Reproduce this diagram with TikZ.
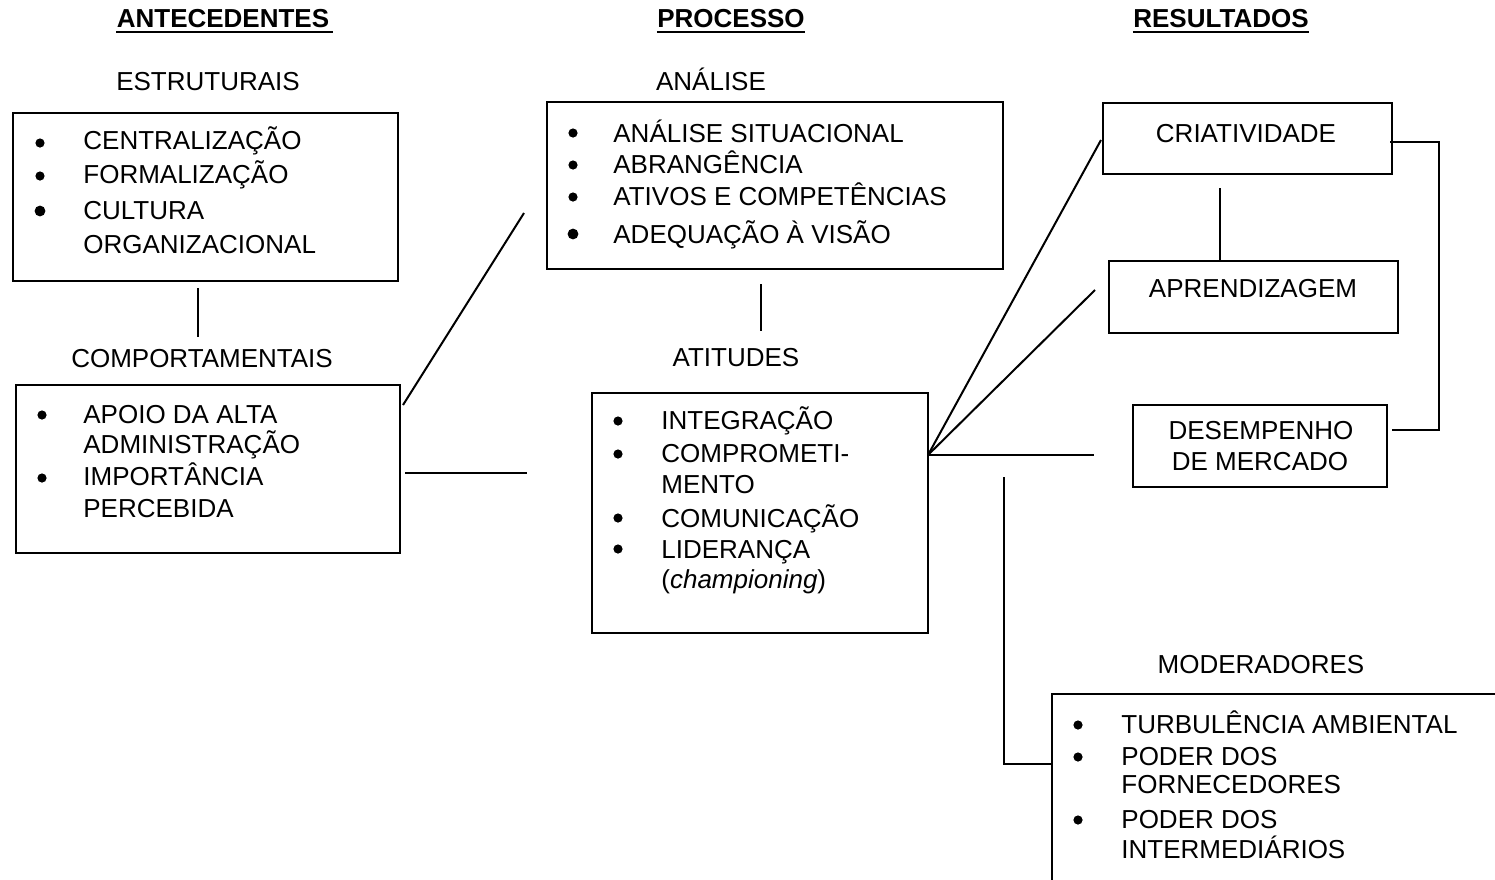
\documentclass[tikz,border=0pt]{standalone}
\usepackage{fontspec}
\setmainfont{Liberation Sans}
\usetikzlibrary{fit}
\begin{document}
\begin{tikzpicture}[x=0.5pt,y=-0.5pt,
  font=\fontsize{13}{15}\selectfont,
  box/.style={draw, line width=1.1pt, inner sep=0pt},
  txt/.style={anchor=base west, inner sep=0pt},
  lbl/.style={anchor=base, inner sep=0pt},
  hdr/.style={anchor=base, inner sep=0pt, font=\fontsize{13}{15}\selectfont\bfseries},
  dot/.style={circle, fill, inner sep=0pt, minimum size=4.6pt},
  bigdot/.style={circle, fill, inner sep=0pt, minimum size=5.4pt},
  conn/.style={line width=1pt}]
\useasboundingbox (0,0) rectangle (1495,879);
\clip (0,0) rectangle (1495,879);

% column headings
\node[hdr] (hA) at (223,27) {ANTECEDENTES};
\node[hdr] (hP) at (731,27) {PROCESSO};
\node[hdr] (hR) at (1221,27) {RESULTADOS};
\draw[line width=1pt] ([yshift=-2.6pt]hA.base west) -- ([yshift=-2.6pt,xshift=1.5pt]hA.base east);
\draw[line width=1pt] ([yshift=-2.6pt]hP.base west) -- ([yshift=-2.6pt]hP.base east);
\draw[line width=1pt] ([yshift=-2.6pt]hR.base west) -- ([yshift=-2.6pt]hR.base east);

% group labels
\node[lbl] (lEst) at (208,90) {ESTRUTURAIS};
\node[lbl] (lAna) at (711,90) {ANÁLISE};
\node[lbl] (lCom) at (202,367) {COMPORTAMENTAIS};
\node[lbl] (lAti) at (736,366) {ATITUDES};
\node[lbl] (lMod) at (1261,673) {MODERADORES};

% boxes
\node[box, fit={(13,113) (398,281)}] (estr) {};
\node[box, fit={(16,385) (400,553)}] (comp) {};
\node[box, fit={(547,102) (1003,269)}] (anal) {};
\node[box, fit={(592,393) (928,633)}] (atit) {};
\node[box, fit={(1103,103) (1392,174)}] (cria) {};
\node[box, fit={(1109,261) (1398,333)}] (apre) {};
\node[box, fit={(1133,405) (1387,487)}] (dese) {};
\node[box, fit={(1052,694) (1530,910)}] (mode) {};

% structural antecedents
\node[dot] (e1) at (40,143) {};
\node[dot] (e2) at (40,176) {};
\node[bigdot] (e3) at (40,211) {};
\node[txt] (te1) at (83,149) {CENTRALIZAÇÃO};
\node[txt] (te2) at (83,183) {FORMALIZAÇÃO};
\node[txt] (te3) at (83,219) {CULTURA};
\node[txt] (te4) at (83,253) {ORGANIZACIONAL};

% behavioural antecedents
\node[dot] (b1) at (42,415) {};
\node[dot] (b2) at (42,478) {};
\node[txt] (tb1) at (83,423) {APOIO DA ALTA};
\node[txt] (tb2) at (83,453) {ADMINISTRAÇÃO};
\node[txt] (tb3) at (83,485) {IMPORTÂNCIA};
\node[txt] (tb4) at (83,517) {PERCEBIDA};

% analysis
\node[dot] (a1) at (573,133) {};
\node[dot] (a2) at (573,165) {};
\node[dot] (a3) at (573,197) {};
\node[bigdot] (a4) at (573,234) {};
\node[txt] (ta1) at (613,142) {ANÁLISE SITUACIONAL};
\node[txt] (ta2) at (613,173) {ABRANGÊNCIA};
\node[txt] (ta3) at (613,205) {ATIVOS E COMPETÊNCIAS};
\node[txt] (ta4) at (613,243) {ADEQUAÇÃO À VISÃO};

% attitudes
\node[dot] (t1) at (618,421) {};
\node[dot] (t2) at (618,454) {};
\node[dot] (t3) at (618,518) {};
\node[dot] (t4) at (618,549) {};
\node[txt] (tt1) at (661,429) {INTEGRAÇÃO};
\node[txt] (tt2) at (661,462) {COMPROMETI-};
\node[txt] (tt3) at (661,493) {MENTO};
\node[txt] (tt4) at (661,527) {COMUNICAÇÃO};
\node[txt] (tt5) at (661,558) {LIDERANÇA};
\node[txt] (tt6) at (661,588) {(\textit{championing})};

% outcomes
\node[lbl] (tc) at (1246,142) {CRIATIVIDADE};
\node[lbl] (tp) at (1253,297) {APRENDIZAGEM};
\node[lbl] (td1) at (1261,439) {DESEMPENHO};
\node[lbl] (td2) at (1260,470) {DE MERCADO};

% moderators
\node[dot] (m1) at (1078,725) {};
\node[dot] (m2) at (1078,757) {};
\node[dot] (m3) at (1078,820) {};
\node[txt] (tm1) at (1121,733) {TURBULÊNCIA AMBIENTAL};
\node[txt] (tm2) at (1121,765) {PODER DOS};
\node[txt] (tm3) at (1121,793) {FORNECEDORES};
\node[txt] (tm4) at (1121,828) {PODER DOS};
\node[txt] (tm5) at (1121,858) {INTERMEDIÁRIOS};

% connector end points
\coordinate (k1a) at (198,288);  \coordinate (k1b) at (198,337);
\coordinate (k2a) at (403,405);  \coordinate (k2b) at (524,213);
\coordinate (k3a) at (405,473);  \coordinate (k3b) at (527,473);
\coordinate (k4a) at (761,284);  \coordinate (k4b) at (761,331);
\coordinate (hub) at (928,455);
\coordinate (k5a) at (1101,140);
\coordinate (k5b) at (1095,290);
\coordinate (k5c) at (1094,455);
\coordinate (k6a) at (1220,188);
\coordinate (k7a) at (1390,142); \coordinate (k7b) at (1439,142);
\coordinate (k7c) at (1439,430); \coordinate (k7d) at (1392,430);
\coordinate (k8a) at (1004,477); \coordinate (k8b) at (1004,764);

% connectors
\draw[conn] (k1a) -- (k1b);
\draw[conn] (k2a) -- (k2b);
\draw[conn] (k3a) -- (k3b);
\draw[conn] (k4a) -- (k4b);
\draw[conn] (hub) -- (k5a);
\draw[conn] (hub) -- (k5b);
\draw[conn] (hub) -- (k5c);
\draw[conn] (k6a) -- (k6a |- apre.north);
\draw[conn] (k7a) -- (k7b) -- (k7c) -- (k7d);
\draw[conn] (k8a) -- (k8b) -- (k8b -| mode.west);
\end{tikzpicture}
\end{document}
